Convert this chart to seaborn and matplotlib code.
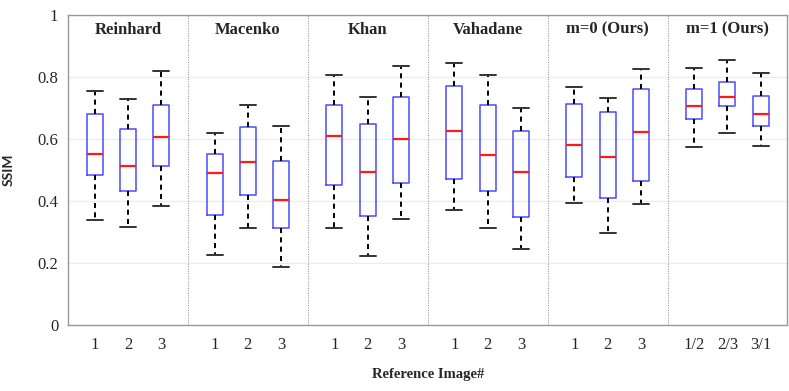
import numpy as np
import pandas as pd
import seaborn as sns
import matplotlib.pyplot as plt

groups = ["Reinhard", "Macenko", "Khan", "Vahadane", "m=0 (Ours)", "m=1 (Ours)"]
tick_labels = ["1", "2", "3"] * 5 + ["1/2", "2/3", "3/1"]

# five-number summaries, one entry per box
lower = [0.339, 0.316, 0.384, 0.224, 0.313, 0.186, 0.311, 0.221, 0.341,
         0.372, 0.313, 0.246, 0.394, 0.296, 0.389, 0.574, 0.620, 0.576]
q1 = [0.484, 0.433, 0.512, 0.353, 0.420, 0.311, 0.452, 0.352, 0.459,
      0.472, 0.431, 0.349, 0.476, 0.409, 0.464, 0.663, 0.705, 0.640]
median = [0.550, 0.511, 0.605, 0.489, 0.524, 0.402, 0.609, 0.494, 0.601,
          0.626, 0.549, 0.494, 0.579, 0.542, 0.622, 0.707, 0.735, 0.680]
q3 = [0.680, 0.632, 0.709, 0.551, 0.637, 0.528, 0.709, 0.648, 0.736,
      0.769, 0.708, 0.626, 0.712, 0.686, 0.760, 0.761, 0.785, 0.738]
upper = [0.754, 0.729, 0.818, 0.618, 0.708, 0.640, 0.805, 0.736, 0.835,
         0.846, 0.807, 0.701, 0.768, 0.732, 0.824, 0.830, 0.856, 0.814]

GW = 3.6  # width of one method group in axis units
positions = [round(g * GW + 0.8 + i, 3) for g in range(len(groups)) for i in range(3)]

rows = []
for k, pos in enumerate(positions):
    for v in (lower[k], q1[k], median[k], q3[k], upper[k]):
        rows.append({"pos": pos, "ssim": v})
df = pd.DataFrame(rows)

sns.set_style("white")
plt.rcParams["font.family"] = ["Liberation Serif", "DejaVu Serif"]

fig, ax = plt.subplots(figsize=(7.89, 3.91), dpi=100)
fig.subplots_adjust(left=0.0862, right=0.998, bottom=0.169, top=0.962)

sns.boxplot(data=df, x="pos", y="ssim", native_scale=True, whis=(0, 100),
            width=0.48, fill=False, showfliers=False, linewidth=1.1,
            capwidths=0.48,
            boxprops=dict(color="#4a4aff"),
            medianprops=dict(color="#ff1a1a", linewidth=1.6),
            whiskerprops=dict(color="black", linewidth=1.4, linestyle=(0, (2.6, 2.2))),
            capprops=dict(color="#333333", linewidth=1.4),
            ax=ax)

ax.set_xlim(0, GW * len(groups))
ax.set_ylim(0, 1)
ax.set_yticks([0, 0.2, 0.4, 0.6, 0.8, 1])
ax.set_yticklabels(["0", "0.2", "0.4", "0.6", "0.8", "1"], fontsize=12)
ax.set_xticks(positions)
ax.set_xticklabels(tick_labels, fontsize=12)
ax.tick_params(axis="both", length=0, pad=7)
ax.tick_params(axis="x", pad=9)
ax.yaxis.grid(True, color="#ececec", linewidth=0.9)
ax.xaxis.grid(False)
for s in ax.spines.values():
    s.set_color("#999999")
    s.set_linewidth(1.0)

for g in range(1, len(groups)):
    ax.axvline(g * GW, color="#888888", linestyle=(0, (1, 1.5)), linewidth=0.7)
for g, name in enumerate(groups):
    ax.text(g * GW + GW / 2, 0.952, name, ha="center", va="center",
            fontsize=12, fontweight="bold")

ax.set_xlabel("Reference Image#", fontsize=10.5, fontweight="bold")
ax.xaxis.set_label_coords(0.5, -0.14)
ax.set_ylabel("SSIM", fontsize=10, fontweight="bold", family=["Lato", "DejaVu Sans"])
ax.yaxis.set_label_coords(-0.074, 0.5)

plt.savefig("out.png", dpi=100)
